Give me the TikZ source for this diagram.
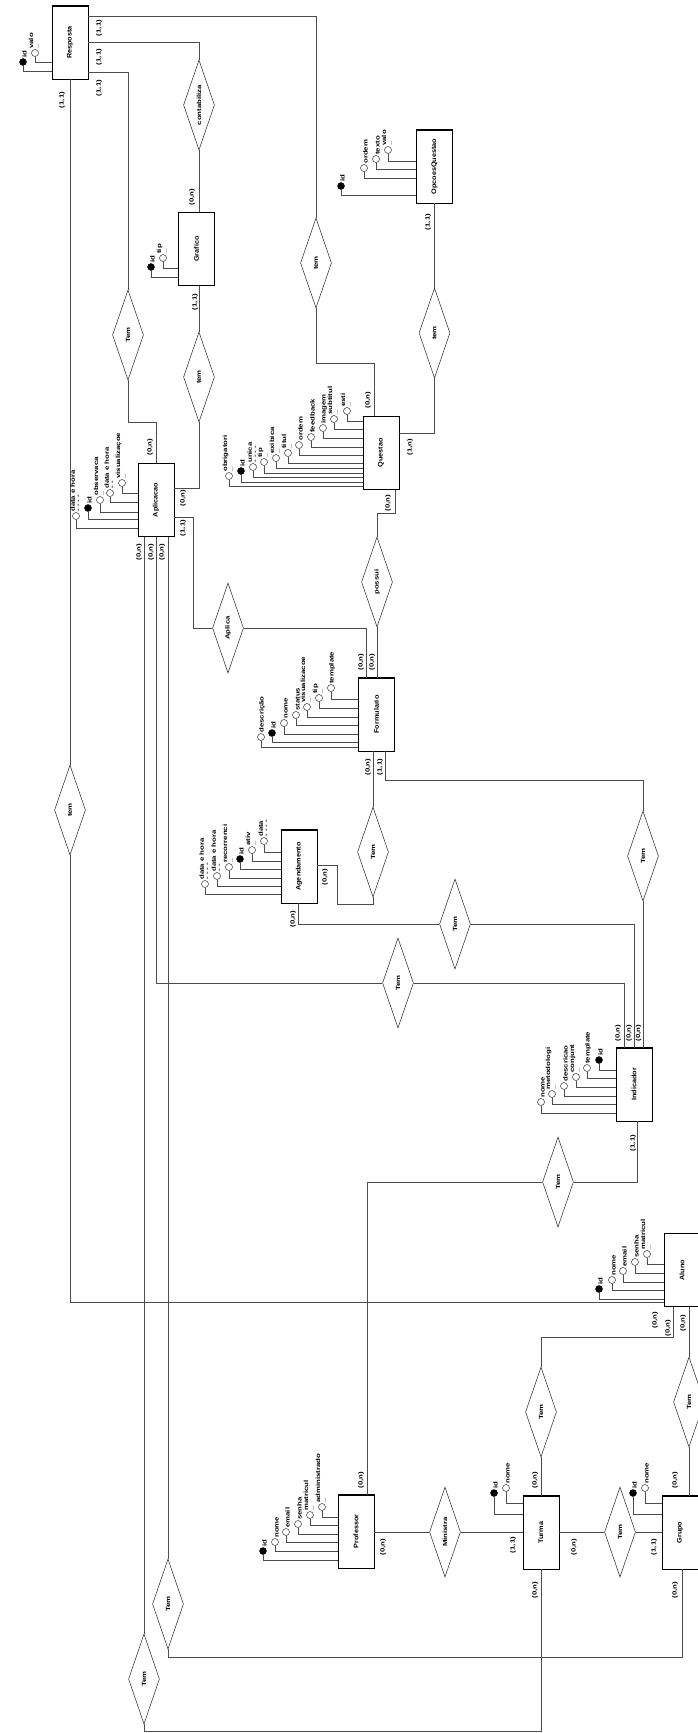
\documentclass[tikz,border=0pt]{standalone}
\usepackage{fontspec}
\setmainfont{Liberation Sans}
\usepackage{graphicx}
\usetikzlibrary{shapes.geometric}
\newcommand{\rtx}[1]{\rotatebox{90}{\scalebox{1.3}[1]{#1}}}
\newcommand{\attrib}[7]{%
  \node[#4] (#1) at (#2,#3) {};
  \node[atl] (#1t) at ([xshift=4pt,yshift=4pt]#1.center) {#5};
  \draw[ln] (#1.south) |- (#7.west |- 0,#6);
}
\tikzset{
 ln/.style={draw=black!70, line width=0.55pt},
 ent/.style={draw=black, line width=0.6pt, fill=white, minimum width=36pt, minimum height=73pt, inner sep=0pt, font=\bfseries\fontsize{6.6}{7}\selectfont},
 dia/.style={diamond, draw=black!80, line width=0.55pt, fill=white, aspect=0.344, minimum width=31pt, minimum height=90pt, inner sep=0pt, font=\bfseries\fontsize{6}{7}\selectfont},
 ao/.style={circle, draw=black!80, fill=white, line width=0.5pt, minimum size=7pt, inner sep=0pt},
 af/.style={circle, draw=black, fill=black, minimum size=7pt, inner sep=0pt},
 atl/.style={rotate=90, xscale=1.3, anchor=south west, inner sep=0pt, align=left, font=\bfseries\fontsize{6}{5}\selectfont},
 card/.style={rotate=90, xscale=1.3, inner sep=0pt, font=\bfseries\fontsize{6}{7}\selectfont},
 shad/.style={draw=black, line width=1.3pt},
}
\begin{document}
\begin{tikzpicture}[x=1pt,y=-1pt]
\useasboundingbox (0,0) rectangle (698,1733);
\fill[white] (0,0) rectangle (698,1733);
\clip (0,0) rectangle (698,1733);

% entities
\node[ent] (R) at (70,42.5) {\rotatebox{90}{\scalebox{1.1}[1]{Resposta}}};
\node[ent] (G) at (196.5,249) {\rotatebox{90}{\scalebox{1.1}[1]{Grafico}}};
\node[ent] (OQ) at (434.5,166.5) {\rotatebox{90}{\scalebox{1.1}[1]{OpcoesQuestao}}};
\node[ent] (Q) at (381,453) {\rotatebox{90}{\scalebox{1.1}[1]{Questao}}};
\node[ent] (Ap) at (156,500) {\rotatebox{90}{\scalebox{1.1}[1]{Aplicacao}}};
\node[ent] (F) at (376.5,714.5) {\rotatebox{90}{\scalebox{1.1}[1]{Formulario}}};
\node[ent] (Ag) at (299,866.5) {\rotatebox{90}{\scalebox{1.1}[1]{Agendamento}}};
\node[ent] (I) at (634,1084.5) {\rotatebox{90}{\scalebox{1.1}[1]{Indicador}}};
\node[ent] (Al) at (682,1270) {\rotatebox{90}{\scalebox{1.1}[1]{Aluno}}};
\node[ent] (P) at (356,1531.5) {\rotatebox{90}{\scalebox{1.1}[1]{Professor}}};
\node[ent] (T) at (541,1532.5) {\rotatebox{90}{\scalebox{1.1}[1]{Turma}}};
\node[ent] (Gr) at (680,1532.5) {\rotatebox{90}{\scalebox{1.1}[1]{Grupo}}};
\foreach \e in {R,G,OQ,Q,Ap,F,Ag,I,Al,P,T,Gr}
  \draw[shad] (\e.north west) -- (\e.north east) -- (\e.south east);

% relationships
\node[dia] (dC) at (199,105) {\rtx{contabiliza}};
\node[dia] (d1) at (316,263) {\rtx{tem}};
\node[dia] (dG) at (199,377) {\rtx{tem}};
\node[dia] (dRA) at (128,335) {\rtx{Tem}};
\node[dia] (dOQ) at (434.5,333) {\rtx{tem}};
\node[dia] (dPo) at (377,582) {\rtx{possui}};
\node[dia] (dAp) at (228,628) {\rtx{Aplica}};
\node[dia] (dFA) at (373,852) {\rtx{Tem}};
\node[dia] (dFI) at (643,856) {\rtx{Tem}};
\node[dia] (dAI) at (455,924) {\rtx{Tem}};
\node[dia] (dApI) at (398,983) {\rtx{Tem}};
\node[dia] (dRAl) at (70,810) {\rtx{tem}};
\node[dia] (dIP) at (558,1182) {\rtx{Tem}};
\node[dia] (dAlT) at (541,1412) {\rtx{Tem}};
\node[dia] (dAlG) at (689,1402) {\rtx{Tem}};
\node[dia] (dMin) at (445,1532) {\rtx{Ministra}};
\node[dia] (dTG) at (620,1532) {\rtx{Tem}};
\node[dia] (dApG) at (168,1604) {\rtx{Tem}};
\node[dia] (dApT) at (144,1679) {\rtx{Tem}};

% connectors
\draw[ln] (R.east |- 0,16) -| (d1.north);
\draw[ln] (R.east |- 0,42) -| (dC.north);
\draw[ln] (dC.south) -- (G.north -| dC.south);
\draw[ln] (R.east |- 0,72) -| (dRA.north);
\draw[ln] (dRA.south) -- (128,422) -| (Ap.north);
\draw[ln] (G.south -| 199,0) -- (dG.north);
\draw[ln] (dG.south) |- (Ap.east |- 0,488);
\draw[ln] (OQ.south) -- (dOQ.north);
\draw[ln] (dOQ.south) |- (Q.east |- 0,433);
\draw[ln] (d1.south) |- (374,363) -- (Q.north -| 374,0);
\draw[ln] (Q.south -| 395,0) -- (395,513) -| (dPo.north);
\draw[ln] (dPo.south) -- (F.north -| dPo.south);
\draw[ln] (Ap.east |- 0,517) -| (193,628) -- (dAp.west);
\draw[ln] (dAp.east) -| (F.north -| 366,0);
\draw[ln] (F.south -| 373,0) -- (dFA.north);
\draw[ln] (dFA.south) -- (373,904) -- (337,904) -- (337,865) -- (Ag.east |- 0,865);
\draw[ln] (F.south -| 385,0) -- (385,780) -| (dFI.north);
\draw[ln] (dFI.south) -- (I.north -| dFI.south);
\draw[ln] (Ag.south -| 298,0) |- (dAI.west);
\draw[ln] (dAI.east) -| (I.north -| 634,0);
\draw[ln] (Ap.south) |- (dApI.west);
\draw[ln] (dApI.east) -| (I.north -| 624,0);
\draw[ln] (I.south -| 637,0) |- (dIP.east);
\draw[ln] (dIP.west) -| (P.north -| 367,0);
\draw[ln] (R.south) -- (dRAl.north);
\draw[ln] (dRAl.south) |- (Al.west |- 0,1302);
\draw[ln] (Al.south -| 673,0) -- (673,1337) -| (dAlT.north);
\draw[ln] (dAlT.south) -- (T.north);
\draw[ln] (Al.south -| 689,0) -- (dAlG.north);
\draw[ln] (dAlG.south) -- (Gr.north -| 689,0);
\draw[ln] (P.east |- 0,1532) -- (dMin.west);
\draw[ln] (dMin.east) -- (T.west |- 0,1532);
\draw[ln] (T.east |- 0,1532) -- (dTG.west);
\draw[ln] (dTG.east) -- (Gr.west |- 0,1532);
\draw[ln] (Gr.south -| 682,0) -- (682,1657) -| (dApG.south);
\draw[ln] (dApG.north) -- (Ap.south -| 168,0);
\draw[ln] (T.south) -- (541,1731) -| (dApT.south);
\draw[ln] (dApT.north) -- (Ap.south -| 144,0);

% attributes
\attrib{ra1}{23}{62}{af}{id}{71}{R}
\attrib{ra2}{35}{53}{ao}{valo\\\_}{62}{R}
\attrib{ga1}{151}{267}{af}{id}{277}{G}
\attrib{ga2}{163}{258}{ao}{tip\\\_}{268}{G}
\attrib{oa1}{341}{186}{af}{id}{195}{OQ}
\attrib{oa2}{364}{168}{ao}{ordem}{178}{OQ}
\attrib{oa3}{376}{159}{ao}{texto}{169}{OQ}
\attrib{oa4}{388}{150}{ao}{valo\\\_}{161}{OQ}
\attrib{qa1}{229}{476}{ao}{obrigatori\\\_}{486}{Q}
\attrib{qa2}{241}{471}{af}{id}{482}{Q}
\attrib{qa3}{253}{467}{ao}{unica\\- - - -}{477}{Q}
\attrib{qa4}{264}{462}{ao}{tip\\\_}{473}{Q}
\attrib{qa5}{276}{458}{ao}{exibica\\\_}{468}{Q}
\attrib{qa6}{288}{453}{ao}{titul\\\_}{463}{Q}
\attrib{qa7}{299}{445}{ao}{ordem}{455}{Q}
\attrib{qa8}{311}{437}{ao}{feedback}{447}{Q}
\attrib{qa9}{323}{428}{ao}{imagem}{438}{Q}
\attrib{qa10}{334}{419}{ao}{subtitul\\\_}{429}{Q}
\attrib{qa11}{347}{411}{ao}{esti\\\_}{421}{Q}
\attrib{pa1}{76}{516}{ao}{data e hora\\- - - -}{528}{Ap}
\attrib{pa2}{88}{508}{af}{id}{519}{Ap}
\attrib{pa3}{100}{500}{ao}{observaca\\\_}{512}{Ap}
\attrib{pa4}{110}{493}{ao}{data e hora\\- -}{502}{Ap}
\attrib{pa5}{122}{483}{ao}{visualizaçoe\\\_}{493}{Ap}
\attrib{fa1}{261}{737}{ao}{descrição}{747}{F}
\attrib{fa2}{272}{733}{af}{id}{742}{F}
\attrib{fa3}{284}{723}{ao}{nome}{734}{F}
\attrib{fa4}{296}{715}{ao}{status}{725}{F}
\attrib{fa5}{307}{707}{ao}{visualizacoe\\\_}{717}{F}
\attrib{fa6}{319}{698}{ao}{tip\\\_}{708}{F}
\attrib{fa7}{331}{688}{ao}{template}{699}{F}
\attrib{ea1}{205}{884}{ao}{data e hora\\- - - -}{894}{Ag}
\attrib{ea2}{217}{876}{ao}{data e hora\\- -}{886}{Ag}
\attrib{ea3}{229}{867}{ao}{recorrenci\\\_}{878}{Ag}
\attrib{ea4}{240}{859}{af}{id}{869}{Ag}
\attrib{ea5}{252}{850}{ao}{ativ\\\_}{861}{Ag}
\attrib{ea6}{264}{841}{ao}{data\\- - - -}{852}{Ag}
\attrib{ia1}{541}{1102}{ao}{nome}{1113}{I}
\attrib{ia2}{552}{1094}{ao}{metodologi\\\_}{1104}{I}
\attrib{ia3}{564}{1086}{ao}{descricao}{1096}{I}
\attrib{ia4}{576}{1077}{ao}{conjunt\\\_}{1087}{I}
\attrib{ia5}{587}{1068}{ao}{template}{1078}{I}
\attrib{ia6}{599}{1060}{af}{id}{1070}{I}
\attrib{pr1}{263}{1551}{af}{id}{1560}{P}
\attrib{pr2}{275}{1542}{ao}{nome}{1551}{P}
\attrib{pr3}{286}{1532}{ao}{email}{1542}{P}
\attrib{pr4}{298}{1524}{ao}{senha}{1534}{P}
\attrib{pr5}{310}{1515}{ao}{matricul\\\_}{1525}{P}
\attrib{pr6}{322}{1507}{ao}{administrado\\\_}{1517}{P}
\attrib{ta1}{494}{1493}{af}{id}{1514}{T}
\attrib{ta2}{506}{1488}{ao}{nome}{1503}{T}
\attrib{gr1}{633}{1493}{af}{id}{1514}{Gr}
\attrib{gr2}{645}{1488}{ao}{nome}{1503}{Gr}
\attrib{al1}{599}{1289}{af}{id}{1299}{Al}
\attrib{al2}{612}{1280}{ao}{nome}{1290}{Al}
\attrib{al3}{623}{1271}{ao}{email}{1282}{Al}
\attrib{al4}{635}{1262}{ao}{senha}{1273}{Al}
\attrib{al5}{647}{1254}{ao}{matricul\\\_}{1264}{Al}

% cardinalities
\node[card] (k1) at (99,28) {(1,1)};
\node[card] (k2) at (99,57) {(1,1)};
\node[card] (k3) at (99,88) {(1,1)};
\node[card] (k4) at (62,100) {(1,1)};
\node[card] (k5) at (192,197) {(0,n)};
\node[card] (k6) at (195,302) {(1,1)};
\node[card] (k7) at (428,222) {(1,1)};
\node[card] (k8) at (368,400) {(0,n)};
\node[card] (k9) at (410,447) {(1,n)};
\node[card] (k10) at (388,503) {(0,n)};
\node[card] (k11) at (150,447) {(0,n)};
\node[card] (k12) at (183,498) {(0,n)};
\node[card] (k13) at (183,528) {(1,1)};
\node[card] (k14) at (139,552) {(0,n)};
\node[card] (k15) at (151,552) {(0,n)};
\node[card] (k16) at (162,552) {(0,n)};
\node[card] (k17) at (361,662) {(0,n)};
\node[card] (k18) at (372,662) {(0,n)};
\node[card] (k19) at (368,767) {(0,n)};
\node[card] (k20) at (380,767) {(1,1)};
\node[card] (k21) at (325,877) {(0,n)};
\node[card] (k22) at (293,919) {(0,n)};
\node[card] (k23) at (618,1033) {(0,n)};
\node[card] (k24) at (629,1033) {(0,n)};
\node[card] (k25) at (638.5,1033) {(0,n)};
\node[card] (k26) at (633,1143) {(1,1)};
\node[card] (k27) at (655,1320) {(0,n)};
\node[card] (k28) at (668,1328) {(0,n)};
\node[card] (k29) at (683,1323) {(0,n)};
\node[card] (k30) at (361,1480) {(0,n)};
\node[card] (k31) at (383,1547) {(0,n)};
\node[card] (k32) at (513,1545) {(1,1)};
\node[card] (k33) at (535,1480) {(0,n)};
\node[card] (k34) at (535,1590) {(0,n)};
\node[card] (k35) at (574,1547) {(0,n)};
\node[card] (k36) at (675,1480) {(0,n)};
\node[card] (k37) at (654,1547) {(1,1)};
\node[card] (k38) at (675,1590) {(0,n)};
\end{tikzpicture}
\end{document}
